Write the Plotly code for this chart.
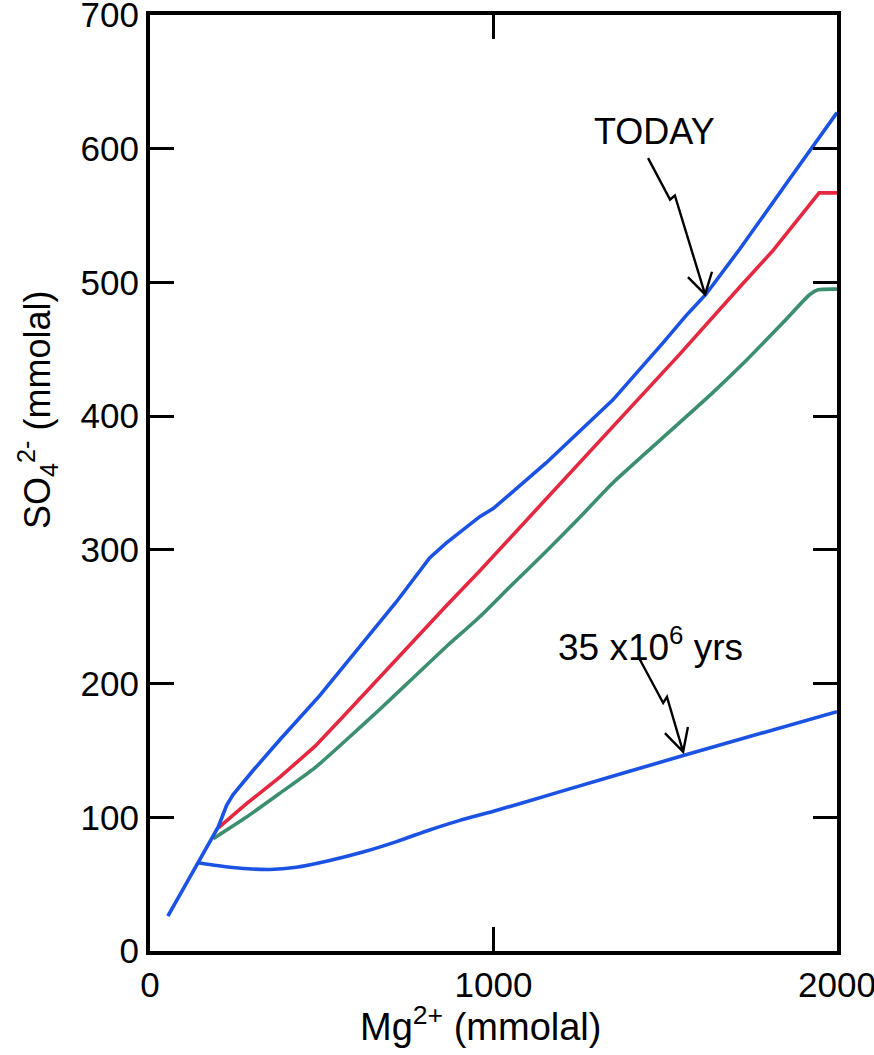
import plotly.graph_objects as go

# ---- data ----
mg_today = [52, 141, 184, 199, 223, 242, 300, 378, 494, 610, 717, 814, 862, 961, 1000, 1153, 1347, 1494, 1560, 1618, 1717, 1850, 2000]
so4_today = [26, 66, 85, 93, 109, 117, 135, 158, 191, 227, 261, 294, 305, 325, 331, 365, 412, 455, 475, 491, 525, 573, 627]

mg_red = [199, 280, 378, 480, 572, 670, 765, 862, 959, 1153, 1347, 1541, 1715, 1814, 1948, 2000]
so4_red = [92, 110, 130, 153, 178, 205, 232, 258, 284, 338, 392, 446, 496, 524, 567, 567]

mg_green = [184, 280, 378, 480, 572, 670, 765, 860, 960, 1050, 1150, 1250, 1347, 1450, 1541, 1640, 1737, 1843, 1921, 1945, 2000]
so4_green = [84, 100, 118, 137, 158, 181, 204, 227, 250, 273, 298, 324, 350, 374, 395, 418, 442, 470, 491, 494.5, 495]

mg_35 = [140, 233, 349, 426, 520, 620, 720, 814, 900, 1000, 1192, 1550, 2000]
so4_35 = [66, 62.6, 61, 62.6, 67.5, 74, 82, 90.5, 97.5, 104.5, 119, 146, 179]

x_ticks = [0, 1000, 2000]
y_ticks = [0, 100, 200, 300, 400, 500, 600, 700]

BLUE = "#1a52e4"
RED = "#e5283f"
GREEN = "#3b8f6f"
FONT = "Liberation Sans, Arial, Helvetica, sans-serif"
LW = 3.6

fig = go.Figure()
fig.add_trace(go.Scatter(x=mg_35, y=so4_35, mode="lines",
                         line=dict(color=BLUE, width=LW, shape="spline", smoothing=0.6), showlegend=False))
fig.add_trace(go.Scatter(x=mg_green, y=so4_green, mode="lines",
                         line=dict(color=GREEN, width=LW, shape="spline", smoothing=0.6), showlegend=False))
fig.add_trace(go.Scatter(x=mg_red, y=so4_red, mode="lines",
                         line=dict(color=RED, width=LW), showlegend=False))
fig.add_trace(go.Scatter(x=mg_today, y=so4_today, mode="lines",
                         line=dict(color=BLUE, width=LW), showlegend=False))

# squiggly arrows (annotation graphics)
arrow_today = "M 1450 593 L 1514 562 L 1528 565 L 1616 491 M 1566 504 L 1616 491 L 1636 508"
arrow_35 = "M 1426 218 L 1494 185.5 L 1505 190 L 1552 149 M 1499 163 L 1552 149 L 1566 167.5"
for p in (arrow_today, arrow_35):
    fig.add_shape(type="path", path=p, xref="x", yref="y",
                  line=dict(color="black", width=2.4))

fig.add_annotation(x=1470, y=613, text="TODAY", showarrow=False, xref="x", yref="y",
                   font=dict(family=FONT, size=36, color="black"))
fig.add_annotation(x=1458, y=229, text="35 x10<sup>6</sup> yrs", showarrow=False, xref="x", yref="y",
                   font=dict(family=FONT, size=37, color="black"))
# y-axis title (placed as in the reference, above the plot centre)
fig.add_annotation(x=-0.163, y=0.578, xref="paper", yref="paper", textangle=-90,
                   xanchor="center", yanchor="middle",
                   text="SO<sub>4</sub><sup>2-</sup> (mmolal)", showarrow=False,
                   font=dict(family=FONT, size=36, color="black"))
# x-axis title
fig.add_annotation(x=0.481, y=-0.078, xref="paper", yref="paper",
                   xanchor="center", yanchor="middle",
                   text="Mg<sup>2+</sup> (mmolal)", showarrow=False,
                   font=dict(family=FONT, size=38, color="black"))

axis_common = dict(
    showline=True, linewidth=4, linecolor="black", mirror="ticks",
    ticks="inside", ticklen=24, tickwidth=2.5, tickcolor="black",
    showgrid=False, zeroline=False, ticklabeloverflow="allow", automargin=False,
    tickfont=dict(family=FONT, size=35, color="black"),
)

fig.update_xaxes(range=[0, 2000], tickvals=x_ticks, ticktext=[str(v) for v in x_ticks],
                 **axis_common)
fig.update_yaxes(range=[0, 700], tickvals=y_ticks, ticktext=[str(v) for v in y_ticks],
                 **axis_common)

fig.update_layout(
    width=874, height=1055,
    margin=dict(l=150, r=37, t=15, b=104),
    paper_bgcolor="white", plot_bgcolor="white",
    font=dict(family=FONT, color="black"),
)

fig.write_html("out.html")
